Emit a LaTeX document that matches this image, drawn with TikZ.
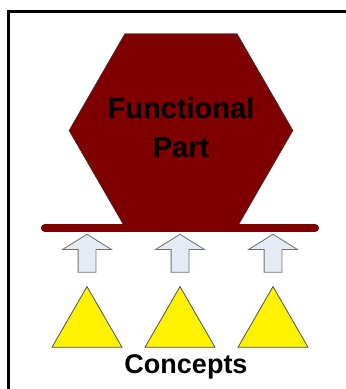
\documentclass[tikz,border=0pt]{standalone}
\usepackage{fontspec}
\setmainfont{Liberation Sans}
\usepackage{xcolor}
\usetikzlibrary{positioning,shapes.geometric,shapes.arrows}

\definecolor{partred}{HTML}{7F0000}
\definecolor{liftblue}{HTML}{E4EBF5}
\definecolor{liftgray}{HTML}{707070}
\definecolor{conceptedge}{HTML}{505050}

\begin{document}
\begin{tikzpicture}[x=1pt, y=1pt, node distance=93pt, on grid,
  part/.style={draw=black!80, fill=partred, regular polygon, regular polygon sides=6,
    minimum size=224pt, inner sep=0pt, outer sep=0pt},
  lift/.style={draw=liftgray, fill=liftblue, single arrow, shape border rotate=90,
    minimum width=48pt, minimum height=38pt, single arrow head extend=15.5pt,
    single arrow tip angle=116, inner sep=8.5pt, line width=0.8pt},
  concept/.style={draw=conceptedge, fill=yellow, regular polygon, regular polygon sides=3,
    minimum size=80.8pt, inner sep=0pt, line width=0.8pt}]

\useasboundingbox (0,0) rectangle (346,389);

% frame
\coordinate (fbl) at (8.5,-10);
\coordinate (ftl) at (8.5,377.7);
\coordinate (ftr) at (360,377.7);
\draw[line width=2.5pt] (fbl) -- (ftl) -- (ftr);

% functional part on its base
\node[part] (fp) at (181,258.5) {};
\node[align=center, font=\fontsize{29}{39}\selectfont\bfseries] (fptext) at ([yshift=3pt]fp.center) {Functional\\Part};
\coordinate (baseL) at (45,161);
\coordinate (baseR) at (315,161);
\draw[partred, line width=8pt, line cap=round] (baseL) -- (baseR);

% concepts
\node[concept] (c1) at (87,62) {};
\node[concept] (c2) [right=of c1] {};
\node[concept] (c3) [right=of c2] {};

\node[lift] (a1) [above=71pt of c1] {};
\node[lift] (a2) [above=71pt of c2] {};
\node[lift] (a3) [above=71pt of c3] {};

\node[font=\fontsize{27}{30}\selectfont\bfseries] (lbl) at (186,22) {Concepts};

\end{tikzpicture}
\end{document}
